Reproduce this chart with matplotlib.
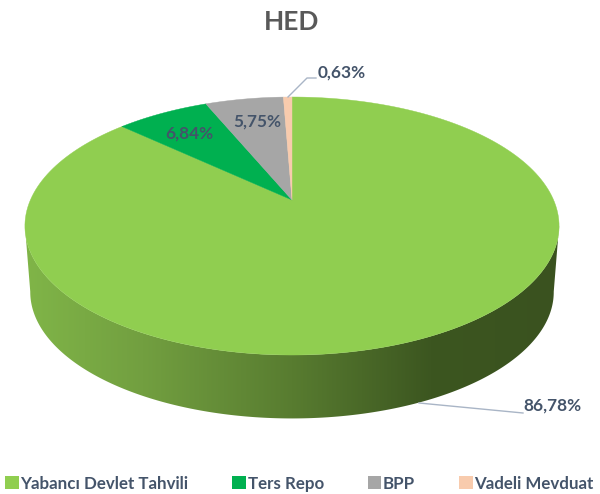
import numpy as np
import matplotlib
matplotlib.use("Agg")
import matplotlib.pyplot as plt
from matplotlib.colors import LinearSegmentedColormap
from matplotlib.patches import Patch, Polygon

plt.rcParams['font.family'] = ['Lato', 'DejaVu Sans']

# Data
categories = ["Yabancı Devlet Tahvili", "Ters Repo", "BPP", "Vadeli Mevduat"]
shares = [86.78, 6.84, 5.75, 0.63]
share_labels = ["86,78%", "6,84%", "5,75%", "0,63%"]
colors = ["#90CE50", "#00B050", "#A6A6A6", "#F8CBAD"]

# Pie geometry in pixels
CX = 292
KX = 261.6
A, B, C = -83.45, 200, 0.2016
DEPTH = 66
TEXT = "#44546A"
LEADER = "#A9B5C6"


def project(theta, radius=1.0):
    # theta is clockwise from the top, perspective tilted pie
    u = radius * np.sin(theta)
    v = radius * np.cos(theta)
    d = 1 + C * v
    return CX + KX * u / d, (A * v + B) / d


fig = plt.figure(figsize=(6, 4.94), dpi=100)
ax = fig.add_axes([0, 0, 1, 1])
ax.set_xlim(0, 600)
ax.set_ylim(494, 0)
ax.axis("off")

# Side wall: band between the top rim and the same rim shifted down
t = np.linspace(np.pi / 2 + 0.2, 3 * np.pi / 2 - 0.2, 300)
x_top, y_top = project(t)
y_mid = 226
x_low = CX + (x_top - CX) * 0.98
y_low = y_mid + (y_top - y_mid) * 0.98 + DEPTH
side = Polygon(np.r_[np.c_[x_top, y_top], np.c_[x_low, y_low][::-1]],
               closed=True, fc="none", ec="none")
ax.add_patch(side)
side_cmap = LinearSegmentedColormap.from_list(
    "side", [(0, "#3A521F"), (0.24, "#3C5620"), (0.5, "#587C30"),
             (0.78, "#729F40"), (1, "#80B548")])
im = ax.imshow(np.linspace(1, 0, 256)[None, :], cmap=side_cmap, aspect="auto",
               extent=[25, 560, 430, 200], zorder=1)
im.set_clip_path(side)
ax.set_xlim(0, 600)
ax.set_ylim(494, 0)

# Top face
start = 0.0
for share, color in zip(shares, colors):
    end = start + share / sum(shares) * 2 * np.pi
    t = np.linspace(start, end, 200)
    x, y = project(t)
    ax.fill(np.r_[CX, x], np.r_[B, y], fc=color, ec=color, lw=0.3, zorder=2)
    start = end

# Leader lines
ax.plot([288, 307, 316], [97, 78, 78], color=LEADER, lw=1, zorder=3)
ax.plot([419, 523], [403, 413], color=LEADER, lw=1, zorder=3)

# Labels
label_xy = [(552, 406), (189, 134), (257, 122), (342, 73)]
for text, (lx, ly) in zip(share_labels, label_xy):
    ax.text(lx, ly, text, ha="center", va="center", fontsize=12.4,
            fontweight="bold", color=TEXT, zorder=4)

ax.text(292, 22, "HED", ha="center", va="center", fontsize=19,
        fontweight="bold", color="#595959")

handles = [Patch(fc=c, ec="none") for c in colors]
ax.legend(handles, categories, ncol=4, loc="center left",
          bbox_to_anchor=(5, 483.5), bbox_transform=ax.transData, frameon=False,
          labelcolor=TEXT, prop={"weight": "bold", "size": 12.2},
          handlelength=0.8, handleheight=0.8, handletextpad=0.1,
          columnspacing=2.6, borderpad=0, borderaxespad=0)

fig.savefig("out.png", dpi=100)
